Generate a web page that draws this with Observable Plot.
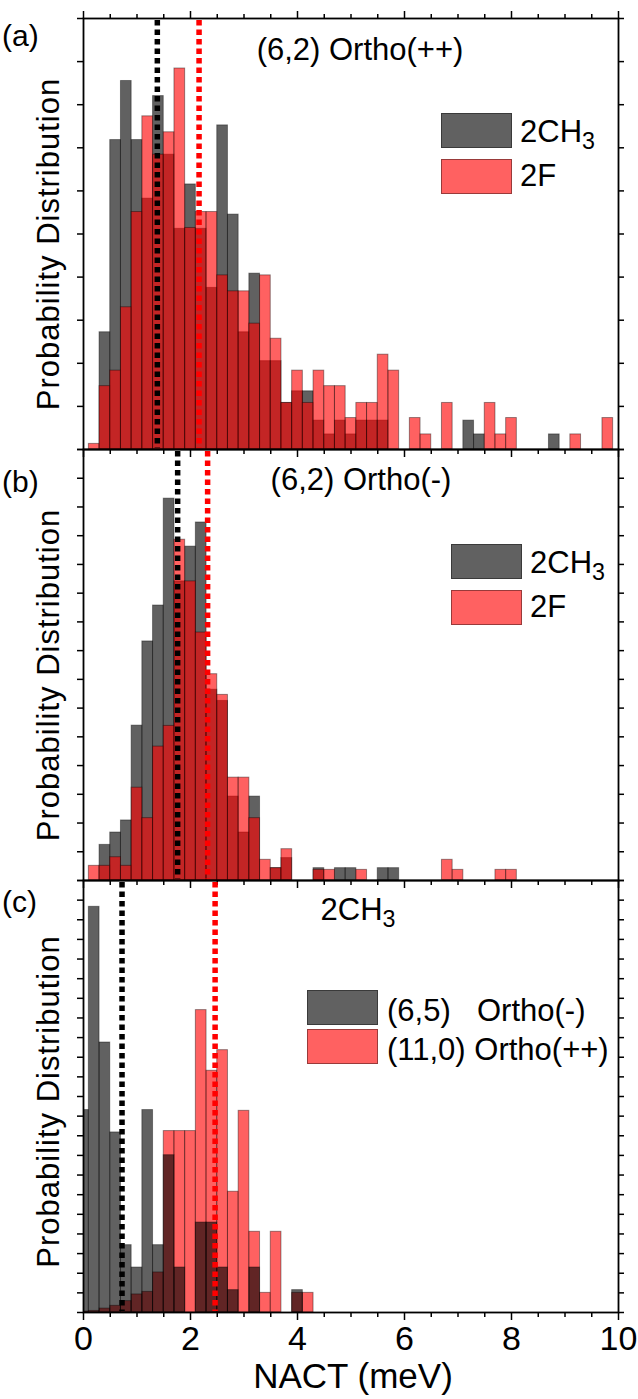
<!DOCTYPE html>
<html>
<head>
<meta charset="utf-8">
<script src="https://cdn.jsdelivr.net/npm/d3@7"></script>
<script src="https://cdn.jsdelivr.net/npm/@observablehq/plot@0.6"></script>
<style>
  body { margin: 0; background: #fff; font-family: "Liberation Sans", Arial, sans-serif; }
  #wrap { position: relative; width: 638px; height: 1399px; overflow: hidden; background: #fff; }
  .panel { position: absolute; left: 0; }
  .lbl { position: absolute; color: #000; white-space: pre; line-height: 1; font-family: "Liberation Sans", Arial, sans-serif; }
  .sub { font-size: 0.75em; position: relative; top: 0.3em; }
  .sw { position: absolute; width: 71px; height: 35px; box-sizing: border-box; border: 1px solid rgba(0,0,0,0.4); }
</style>
</head>
<body>
<div id="wrap"></div>
<script>
// ---------- data ----------
const binCenters = [0, 0.2, 0.4, 0.6, 0.8, 1.0, 1.2, 1.4, 1.6, 1.8,
                    2.0, 2.2, 2.4, 2.6, 2.8, 3.0, 3.2, 3.4, 3.6, 3.8,
                    4.0, 4.2, 4.4, 4.6, 4.8, 5.0, 5.2, 5.4, 5.6, 5.8,
                    6.0, 6.2, 6.4, 6.6, 6.8, 7.0, 7.2, 7.4, 7.6, 7.8,
                    8.0, 8.2, 8.4, 8.6, 8.8, 9.0, 9.2, 9.4, 9.6, 9.8];
const binHalfWidth = 0.1;

// (a) (6,2) Ortho(++): 2CH3 (gray) and 2F (red)
const grayA = [0, 0, 2.72, 7.18, 8.55, 7.18, 5.82, 8.20, 6.84, 5.12,
               6.15, 5.12, 3.75, 7.52, 5.45, 2.72, 4.08, 2.05, 2.05, 1.08,
               1.35, 1.35, 0.67, 0.35, 0.67, 0.35, 0.67, 0.67, 0.67, 0,
               0, 0, 0, 0, 0, 0, 0.67, 0.35, 0, 0,
               0, 0, 0, 0, 0.35, 0, 0, 0, 0, 0];
const redA  = [0, 0.13, 1.47, 1.83, 3.30, 5.51, 7.73, 6.84, 7.36, 8.84,
               5.14, 5.51, 5.51, 4.04, 3.67, 3.67, 2.92, 4.04, 2.57, 1.08,
               1.83, 1.08, 1.83, 1.47, 1.47, 0.73, 1.08, 1.08, 2.20, 1.83,
               0, 0.73, 0.35, 0, 1.08, 0, 0, 0, 1.08, 0.35,
               0.73, 0, 0, 0, 0, 0, 0.35, 0, 0, 0.73];
const meanA = [1.38, 2.16]; // 2CH3, 2F

// (b) (6,2) Ortho(-)
const grayB = [0, 0, 1.24, 1.67, 2.09, 5.39, 8.32, 9.57, 13.29, 10.41,
               11.62, 12.46, 6.64, 6.25, 2.92, 1.67, 2.92, 0, 0.43, 0.78,
               0, 0, 0.43, 0, 0.43, 0.43, 0, 0, 0.43, 0.43,
               0, 0, 0, 0, 0, 0, 0, 0, 0, 0,
               0, 0, 0, 0, 0, 0, 0, 0, 0, 0];
const redB  = [0, 0.51, 0.51, 0.81, 0.51, 3.23, 2.17, 4.66, 5.38, 11.86,
               10.41, 8.63, 7.18, 6.46, 3.58, 3.58, 2.17, 0.72, 0.43, 1.09,
               0, 0, 0.37, 0.37, 0, 0, 0.37, 0, 0, 0,
               0, 0, 0, 0, 0.72, 0.37, 0, 0, 0, 0.37,
               0.37, 0, 0, 0, 0, 0, 0, 0, 0, 0];
const meanB = [1.76, 2.32];

// (c) 2CH3: (6,5) Ortho(-) gray, (11,0) Ortho(++) red
const grayC = [10.31, 20.66, 13.75, 9.17, 3.43, 2.29, 10.31, 3.43, 8.01, 2.29,
               0, 4.58, 4.58, 2.29, 1.14, 0, 2.29, 0, 0, 0,
               1.14, 0, 0, 0, 0, 0, 0, 0, 0, 0,
               0, 0, 0, 0, 0, 0, 0, 0, 0, 0,
               0, 0, 0, 0, 0, 0, 0, 0, 0, 0];
const redC  = [0.05, 0.08, 0.20, 0.34, 0.58, 0.92, 1.05, 2.04, 9.24, 9.24,
               9.24, 15.4, 12.31, 13.36, 6.15, 10.27, 4.11, 1.0, 4.11, 0,
               1.0, 1.0, 0, 0, 0, 0, 0, 0, 0, 0,
               0, 0, 0, 0, 0, 0, 0, 0, 0, 0,
               0, 0, 0, 0, 0, 0, 0, 0, 0, 0];
const meanC = [0.72, 2.46];

const xMajorTicks = [0, 2, 4, 6, 8, 10];
const xMinorTicks = [0.5, 1, 1.5, 2.5, 3, 3.5, 4.5, 5, 5.5, 6.5, 7, 7.5, 8.5, 9, 9.5];
const yTicksA = [0, 1, 2, 3, 4, 5, 6, 7, 8, 9, 10];
const yTicksB = [0, 1, 2, 3, 4, 5, 6, 7, 8, 9, 10, 11, 12, 13, 14, 15];
const yTicksC = [0, 1, 2, 3, 4, 5, 6, 7, 8, 9, 10, 11, 12, 13, 14, 15, 16, 17, 18, 19, 20, 21, 22];

const xTitle = "NACT (meV)";
const yTitle = "Probability Distribution";

// ---------- drawing ----------
const FONT = "Liberation Sans, Arial, sans-serif";
const wrap = document.getElementById("wrap");

function makePanel(cfg) {
  const rows = binCenters.map((c, i) => ({c, gray: cfg.gray[i], red: cfg.red[i]}));
  const rect = (key, fill) => Plot.rect(rows, {
    filter: d => d[key] > 0,
    x1: d => d.c - binHalfWidth, x2: d => d.c + binHalfWidth,
    y1: 0, y2: key,
    fill, fillOpacity: 0.62, stroke: "#000", strokeOpacity: 0.4, strokeWidth: 1,
    clip: true
  });
  const bars = cfg.grayFirst ? [rect("gray", "#000"), rect("red", "#f00")]
                             : [rect("red", "#f00"), rect("gray", "#000")];
  const dash = {strokeWidth: 5.5, strokeDasharray: "5.5,4", insetTop: 2, insetBottom: 1};
  const marks = [
    ...bars,
    Plot.ruleX([cfg.means[0]], {...dash, stroke: "#000"}),
    Plot.ruleX([cfg.means[1]], {...dash, stroke: "#f00"}),
    Plot.frame({stroke: "#000", strokeWidth: 1.8}),
    Plot.axisY({anchor: "left", ticks: cfg.yTicks, tickSize: 6, fill: "none", label: null, strokeWidth: 1.5}),
    Plot.axisY({anchor: "right", ticks: cfg.yTicks, tickSize: 5, fill: "none", label: null, strokeWidth: 1.5}),
    Plot.text([yTitle], {frameAnchor: "left", text: d => d, rotate: -90, dx: -34.5, dy: cfg.yTitleDy,
                         fontSize: 31, textAnchor: "middle", lineAnchor: "middle", fontFamily: FONT})
  ];
  if (cfg.topAxis) {
    marks.push(Plot.axisX({anchor: "top", ticks: xMajorTicks, tickSize: 8, fill: "none", label: null, strokeWidth: 1.5}));
    marks.push(Plot.axisX({anchor: "top", ticks: xMinorTicks, tickSize: 5, fill: "none", label: null, strokeWidth: 1.5}));
  }
  if (cfg.labels) {
    marks.push(Plot.axisX({anchor: "bottom", ticks: xMajorTicks, tickSize: 8, tickPadding: 5, label: null,
                           fontSize: 34, fontFamily: FONT, fill: "#000", strokeWidth: 1.5, tickFormat: d => String(d)}));
    marks.push(Plot.text([xTitle], {frameAnchor: "bottom", text: d => d, dx: 2, dy: 75, fontSize: 35,
                                     lineAnchor: "bottom", fontFamily: FONT}));
  } else {
    marks.push(Plot.axisX({anchor: "bottom", ticks: xMajorTicks, tickSize: 8, fill: "none", label: null, strokeWidth: 1.5}));
  }
  marks.push(Plot.axisX({anchor: "bottom", ticks: xMinorTicks, tickSize: 5, fill: "none", label: null, strokeWidth: 1.5}));

  const svg = Plot.plot({
    width: 638, height: cfg.height,
    marginLeft: 83, marginRight: 20, marginTop: cfg.marginTop, marginBottom: cfg.marginBottom,
    x: {domain: [0, 10]},
    y: {domain: [0, cfg.yTicks[cfg.yTicks.length - 1]]},
    style: {overflow: "visible", background: "transparent", fontFamily: FONT, fontSize: "31px", color: "#000"},
    marks
  });
  svg.classList.add("panel");
  svg.style.top = cfg.top + "px";
  d3.select(svg).selectAll("text").filter(function () { return this.textContent === yTitle; })
    .style("letter-spacing", "1px");
  wrap.appendChild(svg);
}

makePanel({gray: grayA, red: redA, means: meanA, yTicks: yTicksA, grayFirst: true, topAxis: true,
           top: 0, height: 449, marginTop: 18, marginBottom: 0, yTitleDy: 10});
makePanel({gray: grayB, red: redB, means: meanB, yTicks: yTicksB, grayFirst: true, topAxis: false,
           top: 449, height: 431, marginTop: 0, marginBottom: 0, yTitleDy: 10});
makePanel({gray: grayC, red: redC, means: meanC, yTicks: yTicksC, grayFirst: false, topAxis: false, labels: true,
           top: 880, height: 519, marginTop: 0, marginBottom: 87, yTitleDy: 5});

// ---------- annotations ----------
function addText(html, x, baseline, fs, anchor) {
  const d = document.createElement("div");
  d.className = "lbl";
  d.style.fontSize = fs + "px";
  d.style.left = x + "px";
  d.style.top = (baseline - 0.8465 * fs) + "px";
  if (anchor === "middle") d.style.transform = "translateX(-50%)";
  d.innerHTML = html;
  wrap.appendChild(d);
}
function addSwatch(x, y, color) {
  const d = document.createElement("div");
  d.className = "sw";
  d.style.left = x + "px";
  d.style.top = y + "px";
  d.style.background = color;
  wrap.appendChild(d);
}
const GRAY = "rgba(0,0,0,0.62)", RED = "rgba(255,0,0,0.62)";

// panel letters
addText("(a)", 2, 46, 30);
addText("(b)", 2, 492, 30);
addText("(c)", 2, 912, 30);

// panel titles
addText("(6,2) Ortho(++)", 360, 60, 31, "middle");
addText("(6,2) Ortho(-)", 361, 490, 31, "middle");
addText('2CH<span class="sub">3</span>', 358, 920, 31, "middle");

// legends
addSwatch(441, 113, GRAY); addSwatch(441, 159, RED);
addText('2CH<span class="sub">3</span>', 520, 142, 31);
addText("2F", 520, 186, 31);

addSwatch(451, 544, GRAY); addSwatch(451, 590, RED);
addText('2CH<span class="sub">3</span>', 530, 573, 31);
addText("2F", 530, 617, 31);

addSwatch(307, 990, GRAY); addSwatch(307, 1029, RED);
addText("(6,5)", 387, 1021, 31);
addText("Ortho(-)", 477, 1021, 31);
addText("(11,0) Ortho(++)", 387, 1060, 31);
</script>
</body>
</html>
